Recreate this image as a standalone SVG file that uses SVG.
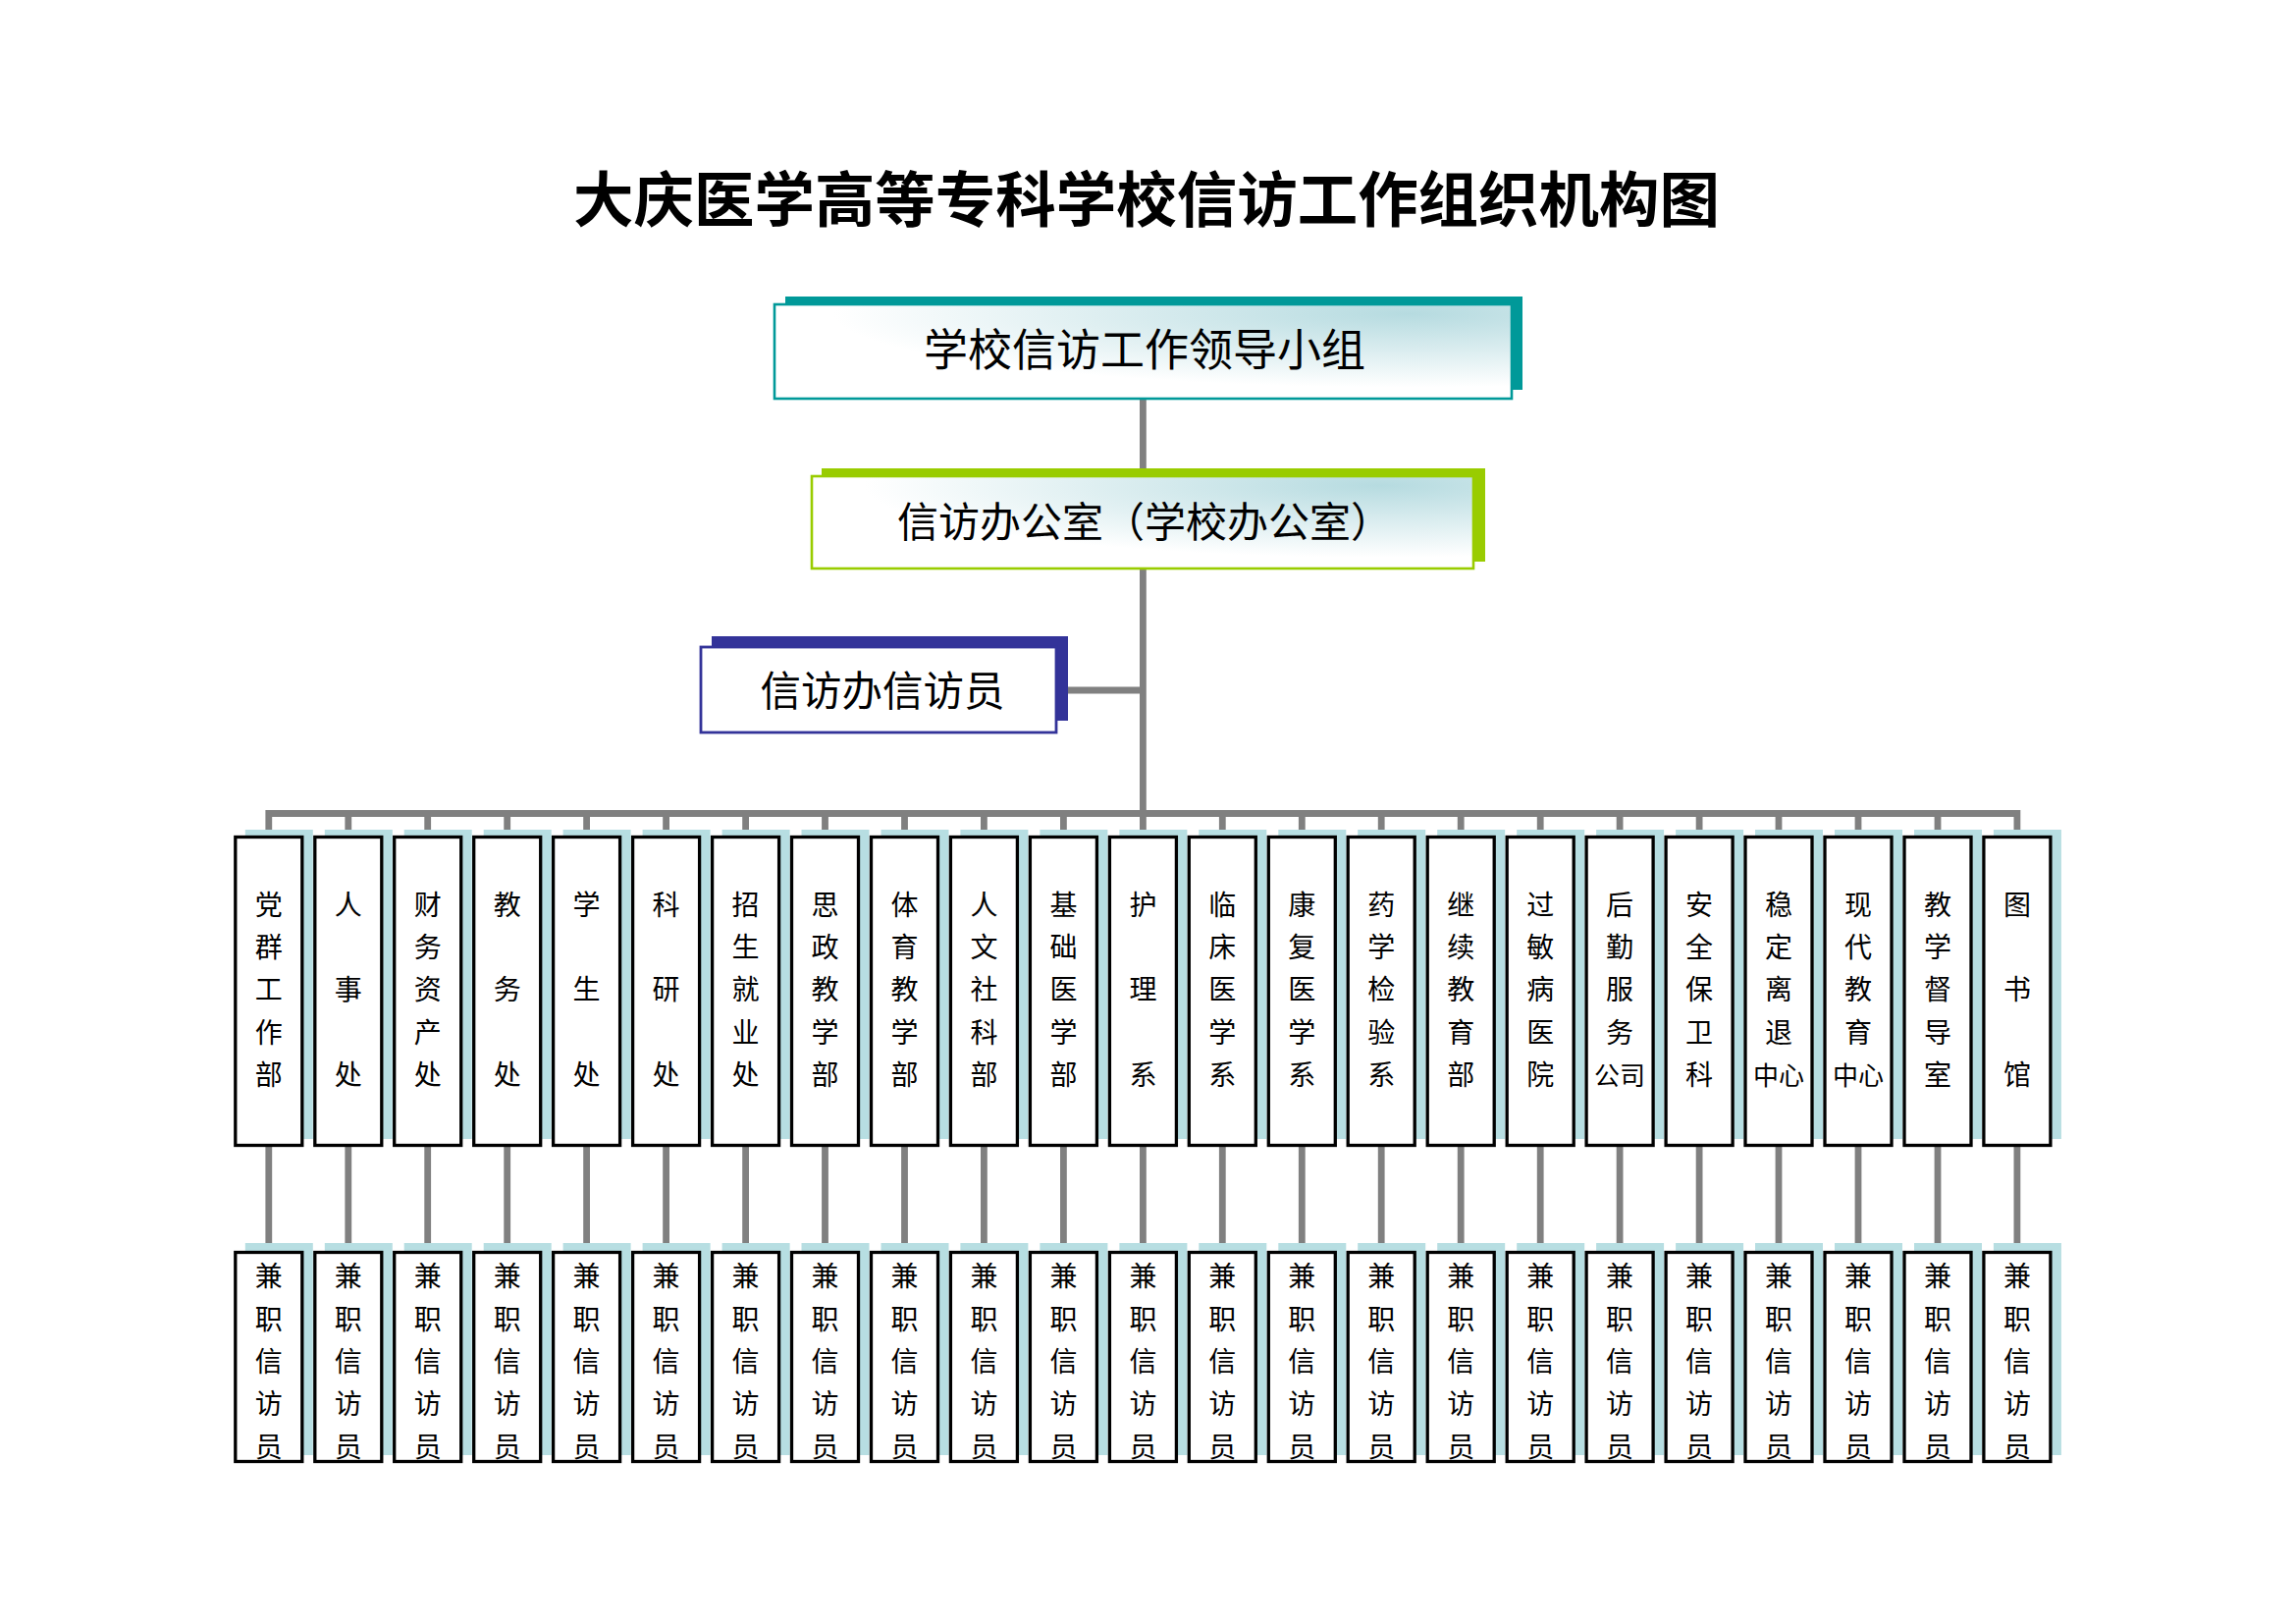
<svg xmlns="http://www.w3.org/2000/svg" width="2339" height="1654" viewBox="0 0 2339 1654">
<style>
text{font-family:"Noto Sans CJK SC","Noto Sans CJK TC",sans-serif;fill:#000;text-anchor:middle;dominant-baseline:central}
.title{font-size:61px;font-weight:bold}
.lbl{font-size:28px}
.lbl2{font-size:26px}
.sh{fill:#B7DEE2}
.box{fill:#fff;stroke:#000;stroke-width:3.3}
.conn{stroke:#808080;stroke-width:6.8;fill:none}
</style>
<defs>
<radialGradient id="gr" cx="0.86" cy="0.1" r="0.78">
<stop offset="0" stop-color="#B6DBE0"/>
<stop offset="1" stop-color="#FFFFFF"/>
</radialGradient>
</defs>
<rect width="2339" height="1654" fill="#fff"/>
<text class="title" x="1168" y="199" textLength="1168" lengthAdjust="spacingAndGlyphs">大庆医学高等专科学校信访工作组织机构图</text>

<g id="connectors">
<line class="conn" x1="1164.4" y1="406" x2="1164.4" y2="832"/>
<line class="conn" x1="1076" y1="703" x2="1164.4" y2="703"/>
<line class="conn" x1="273.8" y1="828.5" x2="2054.9" y2="828.5"/>
<g id="drops">
<path class="conn" d="M273.8 825V1275M354.8 825V1275M435.7 825V1275M516.7 825V1275M597.6 825V1275M678.6 825V1275M759.6 825V1275M840.5 825V1275M921.5 825V1275M1002.4 825V1275M1083.4 825V1275M1164.4 825V1275M1245.3 825V1275M1326.3 825V1275M1407.2 825V1275M1488.2 825V1275M1569.2 825V1275M1650.1 825V1275M1731.1 825V1275M1812 825V1275M1893 825V1275M1974 825V1275M2054.9 825V1275"/>
</g>
</g>

<g id="leader-group">
<rect x="800" y="302" width="751" height="95" fill="#009999"/>
<rect x="789" y="310" width="751" height="96" fill="url(#gr)" stroke="#009999" stroke-width="2.6"/>
<text x="1166" y="353" font-size="45">学校信访工作领导小组</text>
</g>

<g id="office">
<rect x="837" y="477" width="676" height="95" fill="#99CC00"/>
<rect x="827" y="485" width="674" height="94" fill="url(#gr)" stroke="#99CC00" stroke-width="2.6"/>
<text x="1166" y="528" font-size="42">信访办公室（学校办公室）</text>
</g>

<g id="office-staff">
<rect x="725" y="648" width="363" height="86" fill="#333399"/>
<rect x="714" y="659" width="362" height="87" fill="#fff" stroke="#333399" stroke-width="2.8"/>
<text x="899" y="701" font-size="41.5">信访办信访员</text>
</g>

<g id="departments">
<g id="dept-0" transform="translate(273.8,0)"><rect class="sh" x="-24" y="845" width="69" height="315"/><rect class="box" x="-34" y="852.5" width="68" height="314"/><text class="lbl" x="0" y="920">党</text><text class="lbl" x="0" y="963">群</text><text class="lbl" x="0" y="1006">工</text><text class="lbl" x="0" y="1050">作</text><text class="lbl" x="0" y="1093">部</text></g>
<g id="dept-1" transform="translate(354.8,0)"><rect class="sh" x="-24" y="845" width="69" height="315"/><rect class="box" x="-34" y="852.5" width="68" height="314"/><text class="lbl" x="0" y="920">人</text><text class="lbl" x="0" y="1006">事</text><text class="lbl" x="0" y="1093">处</text></g>
<g id="dept-2" transform="translate(435.7,0)"><rect class="sh" x="-24" y="845" width="69" height="315"/><rect class="box" x="-34" y="852.5" width="68" height="314"/><text class="lbl" x="0" y="920">财</text><text class="lbl" x="0" y="963">务</text><text class="lbl" x="0" y="1006">资</text><text class="lbl" x="0" y="1050">产</text><text class="lbl" x="0" y="1093">处</text></g>
<g id="dept-3" transform="translate(516.7,0)"><rect class="sh" x="-24" y="845" width="69" height="315"/><rect class="box" x="-34" y="852.5" width="68" height="314"/><text class="lbl" x="0" y="920">教</text><text class="lbl" x="0" y="1006">务</text><text class="lbl" x="0" y="1093">处</text></g>
<g id="dept-4" transform="translate(597.6,0)"><rect class="sh" x="-24" y="845" width="69" height="315"/><rect class="box" x="-34" y="852.5" width="68" height="314"/><text class="lbl" x="0" y="920">学</text><text class="lbl" x="0" y="1006">生</text><text class="lbl" x="0" y="1093">处</text></g>
<g id="dept-5" transform="translate(678.6,0)"><rect class="sh" x="-24" y="845" width="69" height="315"/><rect class="box" x="-34" y="852.5" width="68" height="314"/><text class="lbl" x="0" y="920">科</text><text class="lbl" x="0" y="1006">研</text><text class="lbl" x="0" y="1093">处</text></g>
<g id="dept-6" transform="translate(759.6,0)"><rect class="sh" x="-24" y="845" width="69" height="315"/><rect class="box" x="-34" y="852.5" width="68" height="314"/><text class="lbl" x="0" y="920">招</text><text class="lbl" x="0" y="963">生</text><text class="lbl" x="0" y="1006">就</text><text class="lbl" x="0" y="1050">业</text><text class="lbl" x="0" y="1093">处</text></g>
<g id="dept-7" transform="translate(840.5,0)"><rect class="sh" x="-24" y="845" width="69" height="315"/><rect class="box" x="-34" y="852.5" width="68" height="314"/><text class="lbl" x="0" y="920">思</text><text class="lbl" x="0" y="963">政</text><text class="lbl" x="0" y="1006">教</text><text class="lbl" x="0" y="1050">学</text><text class="lbl" x="0" y="1093">部</text></g>
<g id="dept-8" transform="translate(921.5,0)"><rect class="sh" x="-24" y="845" width="69" height="315"/><rect class="box" x="-34" y="852.5" width="68" height="314"/><text class="lbl" x="0" y="920">体</text><text class="lbl" x="0" y="963">育</text><text class="lbl" x="0" y="1006">教</text><text class="lbl" x="0" y="1050">学</text><text class="lbl" x="0" y="1093">部</text></g>
<g id="dept-9" transform="translate(1002.4,0)"><rect class="sh" x="-24" y="845" width="69" height="315"/><rect class="box" x="-34" y="852.5" width="68" height="314"/><text class="lbl" x="0" y="920">人</text><text class="lbl" x="0" y="963">文</text><text class="lbl" x="0" y="1006">社</text><text class="lbl" x="0" y="1050">科</text><text class="lbl" x="0" y="1093">部</text></g>
<g id="dept-10" transform="translate(1083.4,0)"><rect class="sh" x="-24" y="845" width="69" height="315"/><rect class="box" x="-34" y="852.5" width="68" height="314"/><text class="lbl" x="0" y="920">基</text><text class="lbl" x="0" y="963">础</text><text class="lbl" x="0" y="1006">医</text><text class="lbl" x="0" y="1050">学</text><text class="lbl" x="0" y="1093">部</text></g>
<g id="dept-11" transform="translate(1164.4,0)"><rect class="sh" x="-24" y="845" width="69" height="315"/><rect class="box" x="-34" y="852.5" width="68" height="314"/><text class="lbl" x="0" y="920">护</text><text class="lbl" x="0" y="1006">理</text><text class="lbl" x="0" y="1093">系</text></g>
<g id="dept-12" transform="translate(1245.3,0)"><rect class="sh" x="-24" y="845" width="69" height="315"/><rect class="box" x="-34" y="852.5" width="68" height="314"/><text class="lbl" x="0" y="920">临</text><text class="lbl" x="0" y="963">床</text><text class="lbl" x="0" y="1006">医</text><text class="lbl" x="0" y="1050">学</text><text class="lbl" x="0" y="1093">系</text></g>
<g id="dept-13" transform="translate(1326.3,0)"><rect class="sh" x="-24" y="845" width="69" height="315"/><rect class="box" x="-34" y="852.5" width="68" height="314"/><text class="lbl" x="0" y="920">康</text><text class="lbl" x="0" y="963">复</text><text class="lbl" x="0" y="1006">医</text><text class="lbl" x="0" y="1050">学</text><text class="lbl" x="0" y="1093">系</text></g>
<g id="dept-14" transform="translate(1407.2,0)"><rect class="sh" x="-24" y="845" width="69" height="315"/><rect class="box" x="-34" y="852.5" width="68" height="314"/><text class="lbl" x="0" y="920">药</text><text class="lbl" x="0" y="963">学</text><text class="lbl" x="0" y="1006">检</text><text class="lbl" x="0" y="1050">验</text><text class="lbl" x="0" y="1093">系</text></g>
<g id="dept-15" transform="translate(1488.2,0)"><rect class="sh" x="-24" y="845" width="69" height="315"/><rect class="box" x="-34" y="852.5" width="68" height="314"/><text class="lbl" x="0" y="920">继</text><text class="lbl" x="0" y="963">续</text><text class="lbl" x="0" y="1006">教</text><text class="lbl" x="0" y="1050">育</text><text class="lbl" x="0" y="1093">部</text></g>
<g id="dept-16" transform="translate(1569.2,0)"><rect class="sh" x="-24" y="845" width="69" height="315"/><rect class="box" x="-34" y="852.5" width="68" height="314"/><text class="lbl" x="0" y="920">过</text><text class="lbl" x="0" y="963">敏</text><text class="lbl" x="0" y="1006">病</text><text class="lbl" x="0" y="1050">医</text><text class="lbl" x="0" y="1093">院</text></g>
<g id="dept-17" transform="translate(1650.1,0)"><rect class="sh" x="-24" y="845" width="69" height="315"/><rect class="box" x="-34" y="852.5" width="68" height="314"/><text class="lbl" x="0" y="920">后</text><text class="lbl" x="0" y="963">勤</text><text class="lbl" x="0" y="1006">服</text><text class="lbl" x="0" y="1050">务</text><text class="lbl2" x="0" y="1093">公司</text></g>
<g id="dept-18" transform="translate(1731.1,0)"><rect class="sh" x="-24" y="845" width="69" height="315"/><rect class="box" x="-34" y="852.5" width="68" height="314"/><text class="lbl" x="0" y="920">安</text><text class="lbl" x="0" y="963">全</text><text class="lbl" x="0" y="1006">保</text><text class="lbl" x="0" y="1050">卫</text><text class="lbl" x="0" y="1093">科</text></g>
<g id="dept-19" transform="translate(1812,0)"><rect class="sh" x="-24" y="845" width="69" height="315"/><rect class="box" x="-34" y="852.5" width="68" height="314"/><text class="lbl" x="0" y="920">稳</text><text class="lbl" x="0" y="963">定</text><text class="lbl" x="0" y="1006">离</text><text class="lbl" x="0" y="1050">退</text><text class="lbl2" x="0" y="1093">中心</text></g>
<g id="dept-20" transform="translate(1893,0)"><rect class="sh" x="-24" y="845" width="69" height="315"/><rect class="box" x="-34" y="852.5" width="68" height="314"/><text class="lbl" x="0" y="920">现</text><text class="lbl" x="0" y="963">代</text><text class="lbl" x="0" y="1006">教</text><text class="lbl" x="0" y="1050">育</text><text class="lbl2" x="0" y="1093">中心</text></g>
<g id="dept-21" transform="translate(1974,0)"><rect class="sh" x="-24" y="845" width="69" height="315"/><rect class="box" x="-34" y="852.5" width="68" height="314"/><text class="lbl" x="0" y="920">教</text><text class="lbl" x="0" y="963">学</text><text class="lbl" x="0" y="1006">督</text><text class="lbl" x="0" y="1050">导</text><text class="lbl" x="0" y="1093">室</text></g>
<g id="dept-22" transform="translate(2054.9,0)"><rect class="sh" x="-24" y="845" width="69" height="315"/><rect class="box" x="-34" y="852.5" width="68" height="314"/><text class="lbl" x="0" y="920">图</text><text class="lbl" x="0" y="1006">书</text><text class="lbl" x="0" y="1093">馆</text></g>
</g>

<g id="staff">
<g id="staff-0" transform="translate(273.8,0)"><rect class="sh" x="-24" y="1266" width="69" height="216"/><rect class="box" x="-34" y="1275.5" width="68" height="213"/><text class="lbl" x="0" y="1298">兼</text><text class="lbl" x="0" y="1342">职</text><text class="lbl" x="0" y="1385">信</text><text class="lbl" x="0" y="1428">访</text><text class="lbl" x="0" y="1472">员</text></g>
<g id="staff-1" transform="translate(354.8,0)"><rect class="sh" x="-24" y="1266" width="69" height="216"/><rect class="box" x="-34" y="1275.5" width="68" height="213"/><text class="lbl" x="0" y="1298">兼</text><text class="lbl" x="0" y="1342">职</text><text class="lbl" x="0" y="1385">信</text><text class="lbl" x="0" y="1428">访</text><text class="lbl" x="0" y="1472">员</text></g>
<g id="staff-2" transform="translate(435.7,0)"><rect class="sh" x="-24" y="1266" width="69" height="216"/><rect class="box" x="-34" y="1275.5" width="68" height="213"/><text class="lbl" x="0" y="1298">兼</text><text class="lbl" x="0" y="1342">职</text><text class="lbl" x="0" y="1385">信</text><text class="lbl" x="0" y="1428">访</text><text class="lbl" x="0" y="1472">员</text></g>
<g id="staff-3" transform="translate(516.7,0)"><rect class="sh" x="-24" y="1266" width="69" height="216"/><rect class="box" x="-34" y="1275.5" width="68" height="213"/><text class="lbl" x="0" y="1298">兼</text><text class="lbl" x="0" y="1342">职</text><text class="lbl" x="0" y="1385">信</text><text class="lbl" x="0" y="1428">访</text><text class="lbl" x="0" y="1472">员</text></g>
<g id="staff-4" transform="translate(597.6,0)"><rect class="sh" x="-24" y="1266" width="69" height="216"/><rect class="box" x="-34" y="1275.5" width="68" height="213"/><text class="lbl" x="0" y="1298">兼</text><text class="lbl" x="0" y="1342">职</text><text class="lbl" x="0" y="1385">信</text><text class="lbl" x="0" y="1428">访</text><text class="lbl" x="0" y="1472">员</text></g>
<g id="staff-5" transform="translate(678.6,0)"><rect class="sh" x="-24" y="1266" width="69" height="216"/><rect class="box" x="-34" y="1275.5" width="68" height="213"/><text class="lbl" x="0" y="1298">兼</text><text class="lbl" x="0" y="1342">职</text><text class="lbl" x="0" y="1385">信</text><text class="lbl" x="0" y="1428">访</text><text class="lbl" x="0" y="1472">员</text></g>
<g id="staff-6" transform="translate(759.6,0)"><rect class="sh" x="-24" y="1266" width="69" height="216"/><rect class="box" x="-34" y="1275.5" width="68" height="213"/><text class="lbl" x="0" y="1298">兼</text><text class="lbl" x="0" y="1342">职</text><text class="lbl" x="0" y="1385">信</text><text class="lbl" x="0" y="1428">访</text><text class="lbl" x="0" y="1472">员</text></g>
<g id="staff-7" transform="translate(840.5,0)"><rect class="sh" x="-24" y="1266" width="69" height="216"/><rect class="box" x="-34" y="1275.5" width="68" height="213"/><text class="lbl" x="0" y="1298">兼</text><text class="lbl" x="0" y="1342">职</text><text class="lbl" x="0" y="1385">信</text><text class="lbl" x="0" y="1428">访</text><text class="lbl" x="0" y="1472">员</text></g>
<g id="staff-8" transform="translate(921.5,0)"><rect class="sh" x="-24" y="1266" width="69" height="216"/><rect class="box" x="-34" y="1275.5" width="68" height="213"/><text class="lbl" x="0" y="1298">兼</text><text class="lbl" x="0" y="1342">职</text><text class="lbl" x="0" y="1385">信</text><text class="lbl" x="0" y="1428">访</text><text class="lbl" x="0" y="1472">员</text></g>
<g id="staff-9" transform="translate(1002.4,0)"><rect class="sh" x="-24" y="1266" width="69" height="216"/><rect class="box" x="-34" y="1275.5" width="68" height="213"/><text class="lbl" x="0" y="1298">兼</text><text class="lbl" x="0" y="1342">职</text><text class="lbl" x="0" y="1385">信</text><text class="lbl" x="0" y="1428">访</text><text class="lbl" x="0" y="1472">员</text></g>
<g id="staff-10" transform="translate(1083.4,0)"><rect class="sh" x="-24" y="1266" width="69" height="216"/><rect class="box" x="-34" y="1275.5" width="68" height="213"/><text class="lbl" x="0" y="1298">兼</text><text class="lbl" x="0" y="1342">职</text><text class="lbl" x="0" y="1385">信</text><text class="lbl" x="0" y="1428">访</text><text class="lbl" x="0" y="1472">员</text></g>
<g id="staff-11" transform="translate(1164.4,0)"><rect class="sh" x="-24" y="1266" width="69" height="216"/><rect class="box" x="-34" y="1275.5" width="68" height="213"/><text class="lbl" x="0" y="1298">兼</text><text class="lbl" x="0" y="1342">职</text><text class="lbl" x="0" y="1385">信</text><text class="lbl" x="0" y="1428">访</text><text class="lbl" x="0" y="1472">员</text></g>
<g id="staff-12" transform="translate(1245.3,0)"><rect class="sh" x="-24" y="1266" width="69" height="216"/><rect class="box" x="-34" y="1275.5" width="68" height="213"/><text class="lbl" x="0" y="1298">兼</text><text class="lbl" x="0" y="1342">职</text><text class="lbl" x="0" y="1385">信</text><text class="lbl" x="0" y="1428">访</text><text class="lbl" x="0" y="1472">员</text></g>
<g id="staff-13" transform="translate(1326.3,0)"><rect class="sh" x="-24" y="1266" width="69" height="216"/><rect class="box" x="-34" y="1275.5" width="68" height="213"/><text class="lbl" x="0" y="1298">兼</text><text class="lbl" x="0" y="1342">职</text><text class="lbl" x="0" y="1385">信</text><text class="lbl" x="0" y="1428">访</text><text class="lbl" x="0" y="1472">员</text></g>
<g id="staff-14" transform="translate(1407.2,0)"><rect class="sh" x="-24" y="1266" width="69" height="216"/><rect class="box" x="-34" y="1275.5" width="68" height="213"/><text class="lbl" x="0" y="1298">兼</text><text class="lbl" x="0" y="1342">职</text><text class="lbl" x="0" y="1385">信</text><text class="lbl" x="0" y="1428">访</text><text class="lbl" x="0" y="1472">员</text></g>
<g id="staff-15" transform="translate(1488.2,0)"><rect class="sh" x="-24" y="1266" width="69" height="216"/><rect class="box" x="-34" y="1275.5" width="68" height="213"/><text class="lbl" x="0" y="1298">兼</text><text class="lbl" x="0" y="1342">职</text><text class="lbl" x="0" y="1385">信</text><text class="lbl" x="0" y="1428">访</text><text class="lbl" x="0" y="1472">员</text></g>
<g id="staff-16" transform="translate(1569.2,0)"><rect class="sh" x="-24" y="1266" width="69" height="216"/><rect class="box" x="-34" y="1275.5" width="68" height="213"/><text class="lbl" x="0" y="1298">兼</text><text class="lbl" x="0" y="1342">职</text><text class="lbl" x="0" y="1385">信</text><text class="lbl" x="0" y="1428">访</text><text class="lbl" x="0" y="1472">员</text></g>
<g id="staff-17" transform="translate(1650.1,0)"><rect class="sh" x="-24" y="1266" width="69" height="216"/><rect class="box" x="-34" y="1275.5" width="68" height="213"/><text class="lbl" x="0" y="1298">兼</text><text class="lbl" x="0" y="1342">职</text><text class="lbl" x="0" y="1385">信</text><text class="lbl" x="0" y="1428">访</text><text class="lbl" x="0" y="1472">员</text></g>
<g id="staff-18" transform="translate(1731.1,0)"><rect class="sh" x="-24" y="1266" width="69" height="216"/><rect class="box" x="-34" y="1275.5" width="68" height="213"/><text class="lbl" x="0" y="1298">兼</text><text class="lbl" x="0" y="1342">职</text><text class="lbl" x="0" y="1385">信</text><text class="lbl" x="0" y="1428">访</text><text class="lbl" x="0" y="1472">员</text></g>
<g id="staff-19" transform="translate(1812,0)"><rect class="sh" x="-24" y="1266" width="69" height="216"/><rect class="box" x="-34" y="1275.5" width="68" height="213"/><text class="lbl" x="0" y="1298">兼</text><text class="lbl" x="0" y="1342">职</text><text class="lbl" x="0" y="1385">信</text><text class="lbl" x="0" y="1428">访</text><text class="lbl" x="0" y="1472">员</text></g>
<g id="staff-20" transform="translate(1893,0)"><rect class="sh" x="-24" y="1266" width="69" height="216"/><rect class="box" x="-34" y="1275.5" width="68" height="213"/><text class="lbl" x="0" y="1298">兼</text><text class="lbl" x="0" y="1342">职</text><text class="lbl" x="0" y="1385">信</text><text class="lbl" x="0" y="1428">访</text><text class="lbl" x="0" y="1472">员</text></g>
<g id="staff-21" transform="translate(1974,0)"><rect class="sh" x="-24" y="1266" width="69" height="216"/><rect class="box" x="-34" y="1275.5" width="68" height="213"/><text class="lbl" x="0" y="1298">兼</text><text class="lbl" x="0" y="1342">职</text><text class="lbl" x="0" y="1385">信</text><text class="lbl" x="0" y="1428">访</text><text class="lbl" x="0" y="1472">员</text></g>
<g id="staff-22" transform="translate(2054.9,0)"><rect class="sh" x="-24" y="1266" width="69" height="216"/><rect class="box" x="-34" y="1275.5" width="68" height="213"/><text class="lbl" x="0" y="1298">兼</text><text class="lbl" x="0" y="1342">职</text><text class="lbl" x="0" y="1385">信</text><text class="lbl" x="0" y="1428">访</text><text class="lbl" x="0" y="1472">员</text></g>
</g>
</svg>
